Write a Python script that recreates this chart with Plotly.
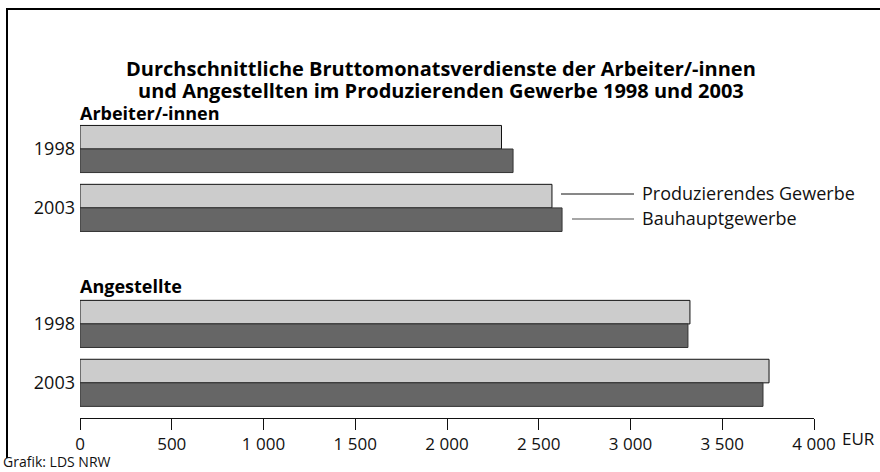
import plotly.graph_objects as go

# ---- data ----
years = ["1998", "2003", "1998", "2003"]
groups = ["Arbeiter/-innen", "Angestellte"]
series_names = ["Produzierendes Gewerbe", "Bauhauptgewerbe"]
prod_gewerbe = [2297, 2572, 3324, 3755]
bauhaupt = [2360, 2627, 3313, 3722]
x_ticks = [0, 500, 1000, 1500, 2000, 2500, 3000, 3500, 4000]
title_lines = ["Durchschnittliche Bruttomonatsverdienste der Arbeiter/-innen",
               "und Angestellten im Produzierenden Gewerbe 1998 und 2003"]

# ---- layout geometry ----
W, H = 880, 472
L, R, T, B = 80, 66, 100, 54
PW, PH = W - L - R, H - T - B
ypos = [0, 1, 2.97, 3.97]


def px(x):
    return (x - L) / PW


def py(y):
    return (H - B - y) / PH


FONT = "Open Sans"

fig = go.Figure()
fig.add_trace(go.Bar(
    y=ypos, x=prod_gewerbe, orientation="h", name=series_names[0],
    marker=dict(color="#cccccc", line=dict(color="#111111", width=1)),
))
fig.add_trace(go.Bar(
    y=ypos, x=bauhaupt, orientation="h", name=series_names[1],
    marker=dict(color="#666666", line=dict(color="#333333", width=1)),
))

unit = 58.9
top_val = ypos[0] - (149 - T) / unit
bot_val = ypos[0] + (H - B - 149) / unit

fig.update_layout(
    width=W, height=H,
    margin=dict(l=L, r=R, t=T, b=B),
    paper_bgcolor="white", plot_bgcolor="white",
    barmode="group", bargap=0.2, bargroupgap=0,
    showlegend=False,
    separators=", ",
    font=dict(family=FONT, size=18, color="#111111"),
    xaxis=dict(
        range=[0, 4000], tickvals=x_ticks, tickformat=",d",
        showline=True, linecolor="#111111", linewidth=1,
        ticks="outside", ticklen=11, tickcolor="#111111", tickwidth=1,
        showgrid=False, zeroline=False,
        tickfont=dict(family=FONT, size=17, color="#111111"),
    ),
    yaxis=dict(
        range=[bot_val, top_val], tickvals=ypos, ticktext=years,
        showline=False, showgrid=False, zeroline=False, ticks="",
        ticklabelstandoff=4,
        tickfont=dict(family=FONT, size=18, color="#111111"),
    ),
)

ann = []
for line, yy in zip(title_lines, [69, 91]):
    ann.append(dict(
        text="<b>" + line + "</b>",
        x=px(441), y=py(yy), xref="paper", yref="paper", xanchor="center", yanchor="middle",
        showarrow=False, font=dict(family=FONT, size=20, color="#000000"),
    ))
for g, yy in zip(groups, [113, 286]):
    ann.append(dict(text="<b>" + g + "</b>", x=px(78), y=py(yy), xref="paper", yref="paper",
                    xanchor="left", yanchor="middle", showarrow=False,
                    font=dict(family=FONT, size=18, color="#000000")))
for s, yy in zip(series_names, [193, 218]):
    ann.append(dict(text=s, x=px(640), y=py(yy), xref="paper", yref="paper",
                    xanchor="left", yanchor="middle", showarrow=False,
                    font=dict(family=FONT, size=18, color="#111111")))
ann.append(dict(text="EUR", x=px(840), y=py(438), xref="paper", yref="paper",
                xanchor="left", yanchor="middle", showarrow=False,
                font=dict(family=FONT, size=17, color="#111111")))
ann.append(dict(text="Grafik: LDS NRW", x=px(1), y=py(461), xref="paper", yref="paper",
                xanchor="left", yanchor="middle", showarrow=False,
                font=dict(family=FONT, size=14, color="#111111")))
fig.update_layout(annotations=ann)

shapes = [
    dict(type="line", xref="paper", yref="paper", x0=px(561), x1=px(634), y0=py(194), y1=py(194),
         line=dict(color="#111111", width=1)),
    dict(type="line", xref="paper", yref="paper", x0=px(572), x1=px(634), y0=py(219), y1=py(219),
         line=dict(color="#888888", width=1.5)),
    dict(type="line", xref="paper", yref="paper", x0=px(7), x1=px(7), y0=py(9), y1=py(458),
         line=dict(color="#000000", width=2)),
    dict(type="line", xref="paper", yref="paper", x0=px(6), x1=px(890), y0=py(9), y1=py(9),
         line=dict(color="#000000", width=2)),
]
fig.update_layout(shapes=shapes)

fig.write_html("out.html", config={"displayModeBar": False},
               post_script="document.body.style.margin='0';")
